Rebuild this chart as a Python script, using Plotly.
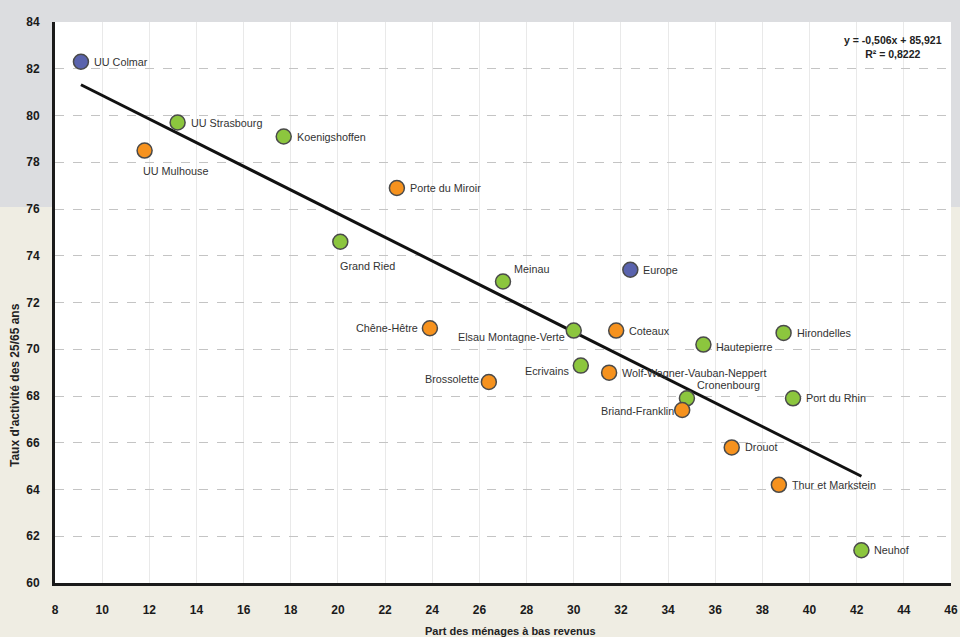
import plotly.graph_objects as go

# Data
names = ["UU Colmar", "UU Strasbourg", "UU Mulhouse", "Koenigshoffen", "Porte du Miroir",
         "Grand Ried", "Meinau", "Europe", "Chêne-Hêtre", "Elsau Montagne-Verte",
         "Coteaux", "Hautepierre", "Hirondelles", "Ecrivains", "Wolf-Wagner-Vauban-Neppert",
         "Brossolette", "Cronenbourg", "Briand-Franklin", "Port du Rhin", "Drouot",
         "Thur et Markstein", "Neuhof"]
part_bas_revenus = [9.1, 13.2, 11.8, 17.7, 22.5,
                    20.1, 27.0, 32.4, 23.9, 30.0,
                    31.8, 35.5, 38.9, 30.3, 31.5,
                    26.4, 34.8, 34.6, 39.3, 36.7,
                    38.7, 42.2]
taux_activite = [82.3, 79.7, 78.5, 79.1, 76.9,
                 74.6, 72.9, 73.4, 70.9, 70.8,
                 70.8, 70.2, 70.7, 69.3, 69.0,
                 68.6, 67.9, 67.4, 67.9, 65.8,
                 64.2, 61.4]
groupe = ["bleu", "vert", "orange", "vert", "orange",
          "vert", "vert", "bleu", "orange", "vert",
          "orange", "vert", "vert", "vert", "orange",
          "orange", "vert", "orange", "vert", "orange",
          "orange", "vert"]

# trend line from the equation printed on the chart
pente = -0.506
ordonnee = 85.921
trend_x = [9.1, 42.2]

couleurs = {"bleu": "#5a63ad", "vert": "#8cc63e", "orange": "#f6921e"}

# label placement: (xanchor, xshift, yshift)
placement = {
    "UU Mulhouse": ("left", -4, -20),
    "Grand Ried": ("left", -2, -24),
    "Meinau": ("left", 9, 12),
    "Chêne-Hêtre": ("right", -10, 0),
    "Elsau Montagne-Verte": ("right", -7, -6),
    "Ecrivains": ("right", -10, -5),
    "Brossolette": ("right", -8, 3),
    "Cronenbourg": ("left", 8, 13),
    "Briand-Franklin": ("right", -6, -1),
    "Hautepierre": ("left", 11, -2),
}

L, R, T, B = 55, 9, 22, 54
W, H = 960, 637
pw, ph = W - L - R, H - T - B

fig = go.Figure()

fig.add_trace(go.Scatter(
    x=trend_x, y=[pente * v + ordonnee for v in trend_x],
    mode="lines", line=dict(color="#111111", width=3),
    hoverinfo="skip", showlegend=False))

fig.add_trace(go.Scatter(
    x=part_bas_revenus, y=taux_activite, mode="markers",
    marker=dict(size=15, color=[couleurs[g] for g in groupe],
                line=dict(color="#4a4a4a", width=1.5)),
    text=names, hoverinfo="text", showlegend=False))

for n, xv, yv in zip(names, part_bas_revenus, taux_activite):
    anchor, xs, ys = placement.get(n, ("left", 11, 0))
    fig.add_annotation(x=xv, y=yv, text=n, showarrow=False,
                       xanchor=anchor, yanchor="middle", xshift=xs, yshift=ys,
                       font=dict(family="Liberation Sans, Arial", size=10.8, color="#333333"))

fig.add_annotation(xref="paper", yref="paper", x=(893 - L) / pw, y=1 - (47 - T) / ph,
                   text="<b>y = -0,506x + 85,921</b><br><b>R² = 0,8222</b>",
                   showarrow=False, align="center", xanchor="center", yanchor="middle",
                   font=dict(family="Liberation Sans, Arial", size=10.5, color="#222222"))

fig.add_annotation(xref="paper", yref="paper", x=(510 - L) / pw, y=-(631 - T - ph) / ph,
                   text="<b>Part des ménages à bas revenus</b>", showarrow=False,
                   xanchor="center", yanchor="middle",
                   font=dict(family="Liberation Sans, Arial", size=11, color="#222222"))

fig.add_annotation(xref="paper", yref="paper", x=-(L - 15) / pw, y=1 - (385 - T) / ph,
                   text="<b>Taux d'activité des 25/65 ans</b>", showarrow=False, textangle=-90,
                   xanchor="center", yanchor="middle",
                   font=dict(family="Liberation Sans, Arial", size=12, color="#222222"))

# two-tone background (grey band on top, beige below) and white plot area
fig.add_shape(type="rect", xref="paper", yref="paper", layer="below",
              x0=-L / pw, x1=1 + R / pw, y0=(T + ph - 207) / ph, y1=1 + T / ph,
              fillcolor="#dcdde0", line=dict(width=0))
fig.add_shape(type="rect", xref="paper", yref="paper", layer="below",
              x0=0, x1=1, y0=0, y1=1, fillcolor="white", line=dict(width=0))

tick_font = dict(family="Liberation Sans, Arial", size=12, color="#1a1a1a", weight="bold")

fig.update_xaxes(range=[8, 46], dtick=2, tick0=8, showgrid=True, gridcolor="#e9e9e9",
                 gridwidth=1, showline=True, linecolor="#1a1a1a", linewidth=3,
                 ticks="", tickfont=tick_font, ticklabelstandoff=14, zeroline=False,
                 ticklabeloverflow="allow", automargin=False)
fig.update_yaxes(range=[60, 84], dtick=2, tick0=60, showgrid=True, gridcolor="#c4c4c4",
                 griddash="dash", gridwidth=1, showline=True, linecolor="#1a1a1a",
                 linewidth=3, ticks="", tickfont=tick_font, ticklabelstandoff=10,
                 zeroline=False, automargin=False)

fig.update_layout(width=W, height=H, margin=dict(l=L, r=R, t=T, b=B),
                  paper_bgcolor="#efede3", plot_bgcolor="white",
                  font=dict(family="Liberation Sans, Arial"))

fig.write_html("out.html", config={"displayModeBar": False},
               post_script="document.body.style.margin='0';document.body.style.overflow='hidden';")
